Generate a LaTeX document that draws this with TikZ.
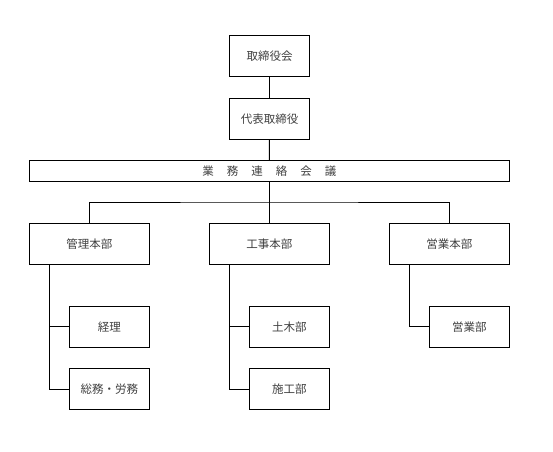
\documentclass[tikz,border=0pt]{standalone}
\usepackage{fontspec}
\newfontfamily\jpfont{Noto Sans CJK JP}
\usetikzlibrary{positioning}
\begin{document}
\begin{tikzpicture}[x=1pt,y=-1pt,line width=0.9pt,
    orgbox/.style={draw,fill=white,minimum width=80pt,minimum height=41pt,
                   inner sep=0pt,font=\jpfont\fontsize{11.5}{13}\selectfont,text=black!75},
    headbox/.style={orgbox,minimum width=120pt},
    barbox/.style={orgbox,minimum width=480pt,minimum height=21pt}]
  \useasboundingbox (0,0) rectangle (553,451);
  %% Top
  \node[orgbox] (board) at (269.5,56) {取締役会};
  \node[orgbox] (ceo) at (269.5,118.7) {代表取締役};
  \node[barbox] (meeting) at (269.3,170.8)
        {業\hspace{13pt}務\hspace{13pt}連\hspace{13pt}絡\hspace{13pt}会\hspace{13pt}議};
  %% Head offices
  \node[headbox] (admin) at (89.3,243.7) {管理本部};
  \node[headbox] (works) at (269.3,243.7) {工事本部};
  \node[headbox] (sales) at (449.3,243.7) {営業本部};
  %% Departments
  \node[orgbox] (acct) at (109.3,326.8) {経理};
  \node[orgbox] (general) at (109.3,389.3) {総務・労務};
  \node[orgbox] (civil) at (289.3,326.8) {土木部};
  \node[orgbox] (constr) at (289.3,389.3) {施工部};
  \node[orgbox] (salesdept) at (469.3,326.8) {営業部};
  %% Connectors
  \coordinate (bus) at (269.3,202);
  \draw (board) -- (ceo);
  \draw (ceo) -- (meeting);
  \draw (meeting) -- (works);
  \draw (admin.north) |- (bus) -| (sales.north);
  \draw ([xshift=-40pt]admin.south) |- (acct.west);
  \draw ([xshift=-40pt]admin.south) |- (general.west);
  \draw ([xshift=-40pt]works.south) |- (civil.west);
  \draw ([xshift=-40pt]works.south) |- (constr.west);
  \draw ([xshift=-40pt]sales.south) |- (salesdept.west);
\end{tikzpicture}
\end{document}
